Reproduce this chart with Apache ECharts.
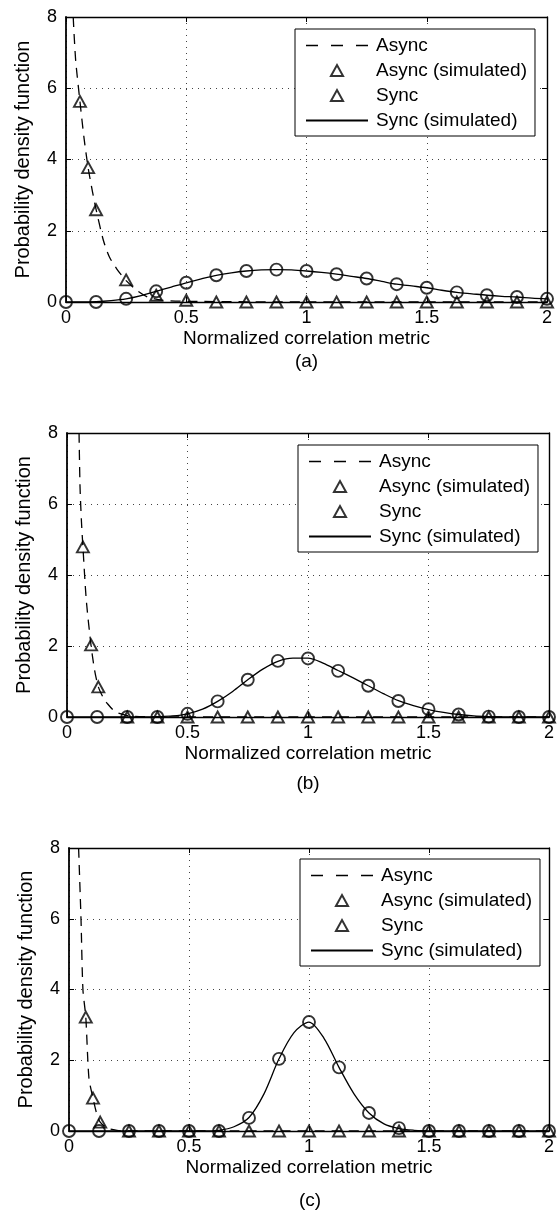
<!DOCTYPE html>
<html>
<head>
<meta charset="utf-8">
<script src="https://cdn.jsdelivr.net/npm/echarts@6/dist/echarts.min.js"></script>
<style>
html,body{margin:0;padding:0;background:#fff;}
#c{width:557px;height:1220px;}
</style>
</head>
<body>
<div id="c"></div>
<script>
// ---------- DATA ----------
const panelLabels = ['(a)', '(b)', '(c)'];
const xTicks = [0, 0.5, 1, 1.5, 2];
const yTicks = [0, 2, 4, 6, 8];
const legendNames = ['Async', 'Async (simulated)', 'Sync', 'Sync (simulated)'];

// circle markers ("Sync") at x = 0, 0.125, ..., 2
const xMarks = [0, 0.125, 0.25, 0.375, 0.5, 0.625, 0.75, 0.875, 1, 1.125, 1.25, 1.375, 1.5, 1.625, 1.75, 1.875, 2];
const syncA = [0, 0, 0.09, 0.30, 0.54, 0.75, 0.87, 0.91, 0.87, 0.78, 0.66, 0.50, 0.40, 0.27, 0.19, 0.14, 0.09];
const syncB = [0, 0, 0, 0, 0.09, 0.44, 1.05, 1.58, 1.65, 1.30, 0.88, 0.45, 0.22, 0.07, 0.01, 0, 0];
const syncC = [0, 0, 0, 0, 0, 0, 0.37, 2.04, 3.08, 1.80, 0.51, 0.08, 0, 0, 0, 0, 0];

// solid curve ("Sync (simulated)") at x = 0, 0.0625, ..., 2
const xCurve = [0, 0.0625, 0.125, 0.1875, 0.25, 0.3125, 0.375, 0.4375, 0.5, 0.5625, 0.625, 0.6875, 0.75, 0.8125, 0.875, 0.9375, 1, 1.0625, 1.125, 1.1875, 1.25, 1.3125, 1.375, 1.4375, 1.5, 1.5625, 1.625, 1.6875, 1.75, 1.8125, 1.875, 1.9375, 2];
const syncCurveA = [0, 0, 0.01, 0.04, 0.09, 0.18, 0.30, 0.42, 0.54, 0.65, 0.75, 0.82, 0.87, 0.90, 0.91, 0.90, 0.87, 0.83, 0.78, 0.72, 0.66, 0.58, 0.50, 0.45, 0.40, 0.33, 0.27, 0.23, 0.19, 0.16, 0.14, 0.11, 0.09];
const syncCurveB = [0, 0, 0, 0, 0, 0, 0.01, 0.03, 0.09, 0.22, 0.44, 0.72, 1.05, 1.35, 1.57, 1.66, 1.66, 1.52, 1.31, 1.10, 0.88, 0.66, 0.46, 0.32, 0.21, 0.13, 0.07, 0.03, 0.01, 0, 0, 0, 0];
const syncCurveC = [0, 0, 0, 0, 0, 0, 0, 0, 0, 0, 0.02, 0.12, 0.38, 1.05, 2.04, 2.78, 3.08, 2.62, 1.80, 1.05, 0.51, 0.20, 0.07, 0.02, 0, 0, 0, 0, 0, 0, 0, 0, 0];

// dashed curve ("Async")
const asyncXA = [0.03, 0.04, 0.058, 0.075, 0.092, 0.11, 0.125, 0.155, 0.18, 0.21, 0.25, 0.3, 0.34, 0.4, 0.5, 1, 2];
const asyncYA = [8, 6.8, 5.63, 4.6, 3.77, 3.1, 2.6, 1.74, 1.27, 0.94, 0.6, 0.3, 0.14, 0.05, 0.02, 0, 0];
const asyncXB = [0.05, 0.054, 0.06, 0.066, 0.08, 0.1, 0.115, 0.13, 0.15, 0.165, 0.2, 0.25, 0.3, 0.5, 1, 2];
const asyncYB = [8, 6.5, 5.5, 4.8, 3.3, 2.0, 1.3, 0.85, 0.55, 0.4, 0.15, 0.04, 0.01, 0, 0, 0];
const asyncXC = [0.04, 0.05, 0.058, 0.07, 0.083, 0.1, 0.115, 0.13, 0.16, 0.2, 0.25, 0.5, 2];
const asyncYC = [8, 6, 4, 3.22, 1.5, 0.93, 0.5, 0.25, 0.08, 0.02, 0, 0, 0];

// triangle markers ("Async (simulated)")
const asyncSimXA = [0.058, 0.092, 0.125, 0.25, 0.375, 0.5, 0.625, 0.75, 0.875, 1, 1.125, 1.25, 1.375, 1.5, 1.625, 1.75, 1.875, 2];
const asyncSimYA = [5.63, 3.77, 2.59, 0.62, 0.19, 0.05, 0, 0, 0, 0, 0, 0, 0, 0, 0, 0, 0, 0];
const asyncSimXB = [0.066, 0.1, 0.13, 0.25, 0.375, 0.5, 0.625, 0.75, 0.875, 1, 1.125, 1.25, 1.375, 1.5, 1.625, 1.75, 1.875, 2];
const asyncSimYB = [4.79, 2.03, 0.85, 0, 0, 0, 0, 0, 0, 0, 0, 0, 0, 0, 0, 0, 0, 0];
const asyncSimXC = [0.07, 0.1, 0.13, 0.25, 0.375, 0.5, 0.625, 0.75, 0.875, 1, 1.125, 1.25, 1.375, 1.5, 1.625, 1.75, 1.875, 2];
const asyncSimYC = [3.22, 0.93, 0.25, 0, 0, 0, 0, 0, 0, 0, 0, 0, 0, 0, 0, 0, 0, 0];

// ---------- BUILD ----------
const zip = (xs, ys) => xs.map((x, i) => [x, ys[i]]);
const panels = [
  {async: zip(asyncXA, asyncYA), asyncSim: zip(asyncSimXA, asyncSimYA), sync: zip(xMarks, syncA), curve: zip(xCurve, syncCurveA)},
  {async: zip(asyncXB, asyncYB), asyncSim: zip(asyncSimXB, asyncSimYB), sync: zip(xMarks, syncB), curve: zip(xCurve, syncCurveB)},
  {async: zip(asyncXC, asyncYC), asyncSim: zip(asyncSimXC, asyncSimYC), sync: zip(xMarks, syncC), curve: zip(xCurve, syncCurveC)}
];

const FONT = 'Liberation Sans';
const INK = '#000';
const grids = [
  {left: 66, top: 17, width: 481, height: 285},
  {left: 67, top: 433, width: 482, height: 284},
  {left: 69, top: 848, width: 482, height: 283}
];
const legendPos = [
  {left: 295, top: 29},
  {left: 298, top: 445},
  {left: 300, top: 859}
];
const labelY = [[340, 362], [752, 784], [1166, 1201]];

const triPath = 'path://M0,10L5.5,0L11,10Z';
const xAxes = [], yAxes = [], series = [], legends = [], graphics = [];
grids.forEach((g, i) => {
  const tickStyle = {show: true, inside: true, length: 5, lineStyle: {color: INK, width: 1}};
  xAxes.push({
    gridIndex: i, type: 'value', min: xTicks[0], max: xTicks[xTicks.length - 1], interval: xTicks[1] - xTicks[0],
    position: 'bottom',
    axisLine: {show: true, onZero: false, lineStyle: {color: INK, width: 1.4}},
    axisTick: tickStyle,
    axisLabel: {color: INK, fontSize: 18, fontFamily: FONT, margin: 7},
    splitLine: {show: true, lineStyle: {color: '#444', type: [1, 5], width: 1}},
    name: 'Normalized correlation metric', nameLocation: 'middle', nameGap: 27,
    nameTextStyle: {color: INK, fontSize: 19, fontFamily: FONT}
  });
  yAxes.push({
    gridIndex: i, type: 'value', min: yTicks[0], max: yTicks[yTicks.length - 1], interval: yTicks[1] - yTicks[0],
    position: 'left',
    axisLine: {show: true, onZero: false, lineStyle: {color: INK, width: 1.8}},
    axisTick: tickStyle,
    axisLabel: {color: INK, fontSize: 18, fontFamily: FONT, margin: 9},
    splitLine: {show: true, lineStyle: {color: '#444', type: [1, 5], width: 1}},
    name: 'Probability density function', nameLocation: 'middle', nameGap: 33, nameRotate: 90,
    nameTextStyle: {color: INK, fontSize: 20, fontFamily: FONT}
  });
});
grids.forEach((g, i) => {
  const tickStyle = {show: true, inside: true, length: 5, lineStyle: {color: INK, width: 1}};
  xAxes.push({
    gridIndex: i, type: 'value', min: xTicks[0], max: xTicks[xTicks.length - 1], interval: xTicks[1] - xTicks[0],
    position: 'top', axisLine: {show: true, onZero: false, lineStyle: {color: INK, width: 1.4}},
    axisTick: tickStyle, axisLabel: {show: false}, splitLine: {show: false}
  });
  yAxes.push({
    gridIndex: i, type: 'value', min: yTicks[0], max: yTicks[yTicks.length - 1], interval: yTicks[1] - yTicks[0],
    position: 'right', axisLine: {show: true, onZero: false, lineStyle: {color: INK, width: 1.4}},
    axisTick: tickStyle, axisLabel: {show: false}, splitLine: {show: false}
  });
});

panels.forEach((p, i) => {
  series.push({
    name: legendNames[0], type: 'line', xAxisIndex: i, yAxisIndex: i, data: p.async,
    symbol: 'none', smooth: 0.25, z: 2,
    lineStyle: {color: INK, width: 1.3, type: [10, 7]}, itemStyle: {color: INK}
  });
  series.push({
    name: legendNames[3], type: 'line', xAxisIndex: i, yAxisIndex: i, data: p.curve,
    symbol: 'none', smooth: 0.3, z: 2,
    lineStyle: {color: INK, width: 1.3, type: 'solid'}, itemStyle: {color: INK}
  });
  series.push({
    name: legendNames[1], type: 'scatter', xAxisIndex: i, yAxisIndex: i, data: p.asyncSim,
    symbol: 'triangle', symbolSize: [12, 11], z: 3,
    itemStyle: {color: 'rgba(255,255,255,0)', borderColor: INK, borderWidth: 1.9}
  });
  series.push({
    name: legendNames[2], type: 'scatter', xAxisIndex: i, yAxisIndex: i, data: p.sync,
    symbol: 'circle', symbolSize: 12, z: 3,
    itemStyle: {color: 'rgba(255,255,255,0)', borderColor: INK, borderWidth: 1.9}
  });
  legends.push({
    left: legendPos[i].left, top: legendPos[i].top, orient: 'vertical',
    itemWidth: 62, itemHeight: 11, itemGap: 6, selectedMode: false,
    symbolKeepAspect: true,
    backgroundColor: '#fff', borderColor: INK, borderWidth: 1,
    padding: [7, 8, 6, 10],
    textStyle: {color: INK, fontSize: 19, fontFamily: FONT, lineHeight: 19, padding: [0, 0, 0, 3]},
    data: [
      {name: legendNames[0], itemStyle: {color: 'rgba(0,0,0,0)', borderWidth: 0},
       lineStyle: {color: INK, width: 1.3, type: [12, 13]}},
      {name: legendNames[1], icon: triPath},
      {name: legendNames[2], icon: triPath},
      {name: legendNames[3], itemStyle: {color: 'rgba(0,0,0,0)', borderWidth: 0}}
    ]
  });
  graphics.push({
    type: 'text', x: grids[i].left + grids[i].width / 2, y: labelY[i][1],
    style: {text: panelLabels[i], font: '19px "Liberation Sans"', fill: INK, textAlign: 'center', textVerticalAlign: 'middle'}
  });
});

const chart = echarts.init(document.getElementById('c'), null, {renderer: 'canvas'});
chart.setOption({
  animation: false,
  backgroundColor: '#fff',
  grid: grids.map(g => Object.assign({containLabel: false}, g)),
  xAxis: xAxes,
  yAxis: yAxes,
  legend: legends,
  series: series,
  graphic: graphics
});
</script>
</body>
</html>
